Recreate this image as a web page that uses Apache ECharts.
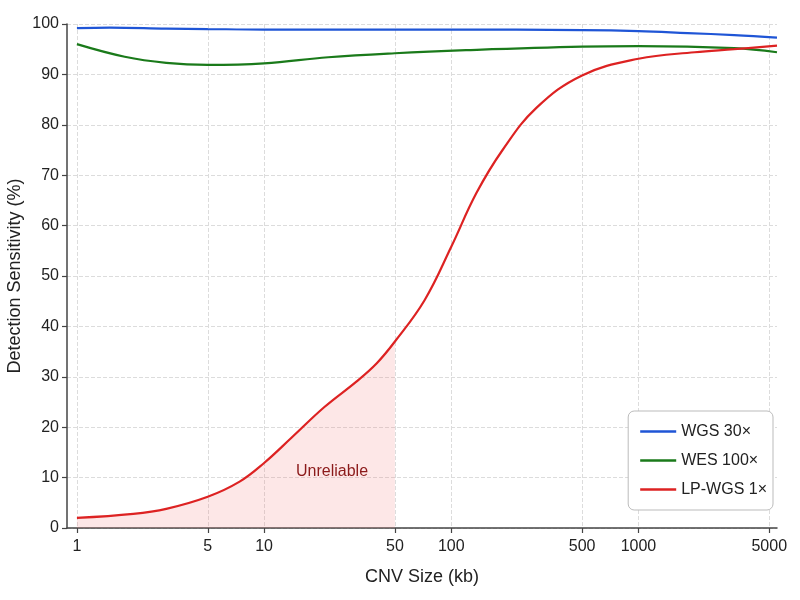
<!DOCTYPE html>
<html>
<head>
    <meta charset="utf-8">
    <title>CNV detection sensitivity</title>
    <script src="https://cdn.jsdelivr.net/npm/echarts@6/dist/echarts.min.js"></script>
    <style>
        body { margin: 0; background: #fff; }
    </style>
</head>
<body>
    <div id="main" style="width: 800px;height:600px;"></div>
    <script type="text/javascript">
        // x ticks (kb)
        var sizeTicks = [1, 5, 10, 50, 100, 500, 1000, 5000];

        // WGS 30x
        var wgsSizes = [1, 1.5, 3, 5, 10, 50, 100, 500, 1000, 1830, 3250, 5500];
        var wgsValues = [99.2, 99.3, 99.1, 99.0, 98.9, 98.9, 98.9, 98.8, 98.6, 98.2, 97.8, 97.3];

        // WES 100x
        var wesSizes = [1, 1.8, 3, 5, 10, 22, 50, 120, 500, 1000, 3250, 5500];
        var wesValues = [96.0, 93.5, 92.3, 91.9, 92.2, 93.4, 94.2, 94.8, 95.5, 95.6, 95.2, 94.4];

        // LP-WGS 1x
        var lpSizes = [1, 2, 3, 5, 7.4, 10, 14, 21, 31, 40, 50, 72, 100, 136, 188, 284, 500, 1000, 2000, 3250, 5500];
        var lpValues = [2.0, 2.8, 3.8, 6.2, 9.2, 12.9, 17.9, 24, 29, 32.7, 37, 45.2, 55.8, 66.4, 75, 83.3, 89.8, 93.1, 94.4, 95.0, 95.7];

        // upper bound of the unreliable zone (kb)
        var unreliableMax = 50;

        function pairs(xs, ys) {
            var arr = [];
            for (var i = 0; i < xs.length; i++) {
                arr.push([xs[i], ys[i]]);
            }
            return arr;
        }

        var lpData = pairs(lpSizes, lpValues);
        var unreliableData = lpData.filter(function (p) { return p[0] <= unreliableMax; });

        var myChart = echarts.init(document.getElementById('main'));

        var font = 'Liberation Sans, Arial, sans-serif';

        var option = {
            animation: false,
            textStyle: { fontFamily: font },
            grid: { left: 67, right: 23, top: 24, bottom: 72, containLabel: false, outerBoundsMode: 'none' },
            legend: {
                orient: 'vertical',
                right: 27,
                bottom: 90,
                data: ['WGS 30×', 'WES 100×', 'LP-WGS 1×'],
                icon: 'rect',
                itemWidth: 36,
                itemHeight: 2.5,
                itemGap: 12,
                itemTextGap: 9,
                padding: [12, 6, 12, 12],
                backgroundColor: '#fff',
                borderColor: '#bbb',
                borderWidth: 1,
                borderRadius: 6,
                textStyle: { fontSize: 16, color: '#222', fontFamily: font, lineHeight: 17 }
            },
            xAxis: {
                type: 'log',
                logBase: 10,
                min: 0.885,
                max: 5500,
                name: 'CNV Size (kb)',
                nameLocation: 'middle',
                nameGap: 40,
                nameMoveOverlap: false,
                nameTextStyle: { fontSize: 18, color: '#222', fontFamily: font },
                axisLine: { lineStyle: { color: '#444', width: 1.5 } },
                axisTick: { show: true, length: 5, customValues: sizeTicks, lineStyle: { color: '#444', width: 1.2 } },
                axisLabel: {
                    customValues: sizeTicks,
                    margin: 11,
                    fontSize: 16,
                    color: '#222',
                    fontFamily: font,
                    formatter: function (v) { return String(Math.round(v)); }
                },
                splitLine: { show: true, lineStyle: { color: '#dcdcdc', type: 'dashed', width: 1 } },
                minorTick: { show: false }
            },
            yAxis: {
                type: 'value',
                min: 0,
                max: 100,
                interval: 10,
                name: 'Detection Sensitivity (%)',
                nameLocation: 'middle',
                nameGap: 43,
                nameMoveOverlap: false,
                nameTextStyle: { fontSize: 18, color: '#222', fontFamily: font },
                axisLine: { show: true, lineStyle: { color: '#444', width: 1.5 } },
                axisTick: { show: true, length: 5, lineStyle: { color: '#444', width: 1.2 } },
                axisLabel: { margin: 8, fontSize: 16, color: '#222', fontFamily: font },
                splitLine: { show: true, lineStyle: { color: '#dcdcdc', type: 'dashed', width: 1 } }
            },
            graphic: [{
                type: 'text',
                left: 296,
                top: 464,
                style: {
                    text: 'Unreliable',
                    fill: '#8b1a1a',
                    fontSize: 16,
                    fontFamily: font
                },
                z: 10
            }],
            series: [
                {
                    name: 'unreliable',
                    type: 'line',
                    data: unreliableData,
                    smooth: 0.4,
                    symbol: 'none',
                    silent: true,
                    lineStyle: { width: 0, opacity: 0 },
                    areaStyle: { color: 'rgba(245,120,120,0.25)', origin: 'start' },
                    z: 1
                },
                {
                    name: 'WGS 30×',
                    type: 'line',
                    data: pairs(wgsSizes, wgsValues),
                    smooth: 0.4,
                    symbol: 'none',
                    color: '#1f55d6',
                    lineStyle: { width: 2.2 },
                    z: 3
                },
                {
                    name: 'WES 100×',
                    type: 'line',
                    data: pairs(wesSizes, wesValues),
                    smooth: 0.4,
                    symbol: 'none',
                    color: '#1a7a1a',
                    lineStyle: { width: 2.2 },
                    z: 3
                },
                {
                    name: 'LP-WGS 1×',
                    type: 'line',
                    data: lpData,
                    smooth: 0.4,
                    symbol: 'none',
                    color: '#dd2222',
                    lineStyle: { width: 2.2 },
                    z: 3
                }
            ]
        };

        myChart.setOption(option);
    </script>
</body>
</html>
